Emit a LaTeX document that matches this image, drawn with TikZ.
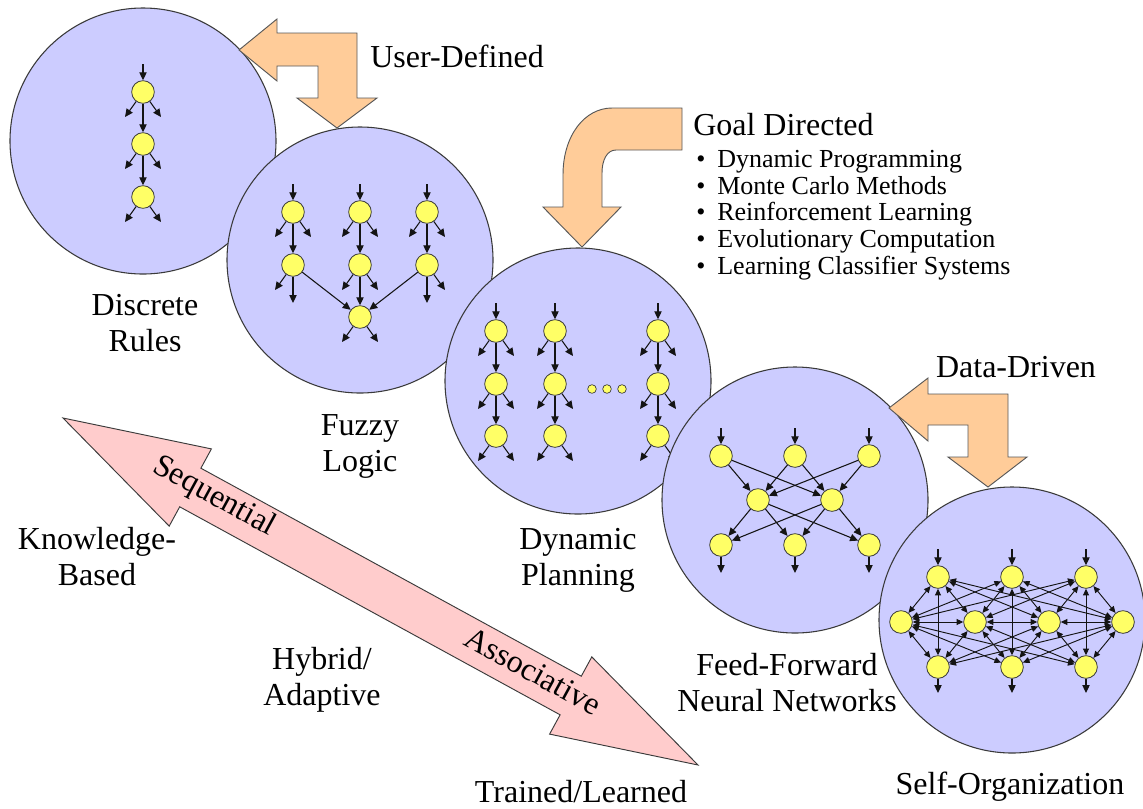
\documentclass[tikz,border=0pt]{standalone}
\usepackage{fontspec}
\setmainfont{LiberationSerif}[Extension=.ttf, UprightFont=*-Regular,
  BoldFont=*-Bold, ItalicFont=*-Italic, BoldItalicFont=*-BoldItalic]
\usetikzlibrary{arrows.meta,calc}

\definecolor{bubfill}{HTML}{CCCCFF}
\definecolor{rim}{HTML}{3A3A3A}
\definecolor{cellyellow}{HTML}{FFFF66}
\definecolor{peach}{HTML}{FFCC99}
\definecolor{rose}{HTML}{FFCCCC}
\definecolor{ink}{HTML}{141414}

\tikzset{
  bubble/.style={circle, draw=rim, fill=bubfill, line width=0.8pt,
    minimum size=199.5pt, inner sep=0pt},
  unit/.style={circle, draw=rim, fill=cellyellow, line width=0.6pt,
    minimum size=17pt, inner sep=0pt},
  dotunit/.style={circle, draw=rim, fill=cellyellow, line width=0.5pt,
    minimum size=6.5pt, inner sep=0pt},
  arr/.style={draw=ink, line width=0.8pt, -{Triangle[length=6pt,width=5.5pt]}},
  arrb/.style={draw=ink, line width=0.7pt,
    {Triangle[length=5pt,width=4.5pt]}-{Triangle[length=5pt,width=4.5pt]}},
  block/.style={draw=rim!85, fill=peach, line width=0.7pt, line join=miter},
  band/.style={draw=rim, fill=rose, line width=0.7pt, line join=miter},
  lbl/.style={font=\fontsize{24}{27}\selectfont, align=center, inner sep=0pt},
}

% two slanted output arrows below a unit
\newcommand\fanout[1]{%
  \coordinate (#1-l) at ($(#1)+(-18,25)$);
  \coordinate (#1-r) at ($(#1)+(18,25)$);
  \draw[arr] (#1) -- (#1-l);
  \draw[arr] (#1) -- (#1-r);}
\newcommand\fanleft[1]{%
  \coordinate (#1-l) at ($(#1)+(-18,25)$);
  \draw[arr] (#1) -- (#1-l);}
\newcommand\fanright[1]{%
  \coordinate (#1-r) at ($(#1)+(18,25)$);
  \draw[arr] (#1) -- (#1-r);}
% vertical input arrow into a unit
\newcommand\feedin[1]{%
  \coordinate (#1-in) at ($(#1)+(0,-28)$);
  \draw[arr] (#1-in) -- (#1);}
% vertical output arrow out of a unit
\newcommand\feedout[2]{%
  \coordinate (#1-out) at ($(#1)+(0,#2)$);
  \draw[arr] (#1) -- (#1-out);}

\begin{document}
\begin{tikzpicture}[x=0.75pt,y=-0.75pt]
\useasboundingbox (0,0) rectangle (1143,808);
\fill[white] (0,0) rectangle (1143,808);

% ---------- Discrete rules ----------
\node[bubble] (c1) at (143,141) {};
\node[unit] (d1) at (143,92) {};
\node[unit] (d2) at (143,144) {};
\node[unit] (d3) at (143,197) {};
\feedin{d1}
\draw[arr] (d1) -- (d2);
\draw[arr] (d2) -- (d3);
\fanout{d1}\fanout{d2}\fanout{d3}

% ---------- Fuzzy logic ----------
\node[bubble] (c2) at (360,260) {};
\node[unit] (f11) at (293,212) {};
\node[unit] (f12) at (360,212) {};
\node[unit] (f13) at (427,212) {};
\node[unit] (f21) at (293,265) {};
\node[unit] (f22) at (360,265) {};
\node[unit] (f23) at (427,265) {};
\node[unit] (fb) at (360,317) {};
\feedin{f11}\feedin{f12}\feedin{f13}
\draw[arr] (f11) -- (f21);
\draw[arr] (f12) -- (f22);
\draw[arr] (f13) -- (f23);
\fanout{f11}\fanout{f12}\fanout{f13}
\fanleft{f21}\fanout{f22}\fanright{f23}
\feedout{f21}{38}
\feedout{f23}{38}
\draw[arr] (f21) -- (fb);
\draw[arr] (f22) -- (fb);
\draw[arr] (f23) -- (fb);
\fanout{fb}

% ---------- Dynamic planning ----------
\node[bubble] (c3) at (578,381) {};
\foreach \c/\x in {a/496,b/555,c/658}{
  \node[unit] (p\c1) at (\x,331) {};
  \node[unit] (p\c2) at (\x,384) {};
  \node[unit] (p\c3) at (\x,436) {};
  \feedin{p\c1}
  \draw[arr] (p\c1) -- (p\c2);
  \draw[arr] (p\c2) -- (p\c3);
  \fanout{p\c1}\fanout{p\c2}\fanout{p\c3}
}
\node[dotunit] (e1) at (592,389) {};
\node[dotunit] (e2) at (607,389) {};
\node[dotunit] (e3) at (622,389) {};

% ---------- Feed-forward network ----------
\node[bubble] (c4) at (795,500) {};
\node[unit] (i1) at (721,456) {};
\node[unit] (i2) at (795,456) {};
\node[unit] (i3) at (869,456) {};
\node[unit] (h1) at (758,500) {};
\node[unit] (h2) at (832,500) {};
\node[unit] (o1) at (721,545) {};
\node[unit] (o2) at (795,545) {};
\node[unit] (o3) at (869,545) {};
\foreach \a in {i1,i2,i3}{
  \feedin{\a}
  \foreach \b in {h1,h2} \draw[arr] (\a) -- (\b);
}
\foreach \a in {h1,h2}
  \foreach \b in {o1,o2,o3} \draw[arr] (\a) -- (\b);
\foreach \b in {o1,o2,o3} {\feedout{\b}{28}}

% ---------- Self-organization ----------
\node[bubble] (c5) at (1012,620) {};
\node[unit] (t1) at (938,577) {};
\node[unit] (t2) at (1012,577) {};
\node[unit] (t3) at (1086,577) {};
\node[unit] (m1) at (901,622) {};
\node[unit] (m2) at (975,622) {};
\node[unit] (m3) at (1049,622) {};
\node[unit] (m4) at (1123,622) {};
\node[unit] (b1) at (938,667) {};
\node[unit] (b2) at (1012,667) {};
\node[unit] (b3) at (1086,667) {};
\foreach \a in {t1,t2,t3}
  \foreach \b in {m1,m2,m3,m4} \draw[arrb] (\a) -- (\b);
\foreach \a in {m1,m2,m3,m4}
  \foreach \b in {b1,b2,b3} \draw[arrb] (\a) -- (\b);
\draw[arrb] (m1) -- (m2);
\draw[arrb] (m2) -- (m3);
\draw[arrb] (m3) -- (m4);
\draw[arrb] (t1) -- (b1);
\draw[arrb] (t2) -- (b2);
\draw[arrb] (t3) -- (b3);
\foreach \a in {t1,t2,t3} {\feedin{\a}}
\foreach \b in {b1,b2,b3} {\feedout{\b}{26}}

% ---------- Block arrows ----------
% user-defined: left to the rules, down to the fuzzy logic
\draw[block] (239,50) -- (277,19) -- (277,33) -- (357,33) -- (357,98)
  -- (377,98) -- (337,128) -- (297,98) -- (318,98) -- (318,66)
  -- (277,66) -- (277,81) -- cycle;
% data-driven: left to the feed-forward net, down to self-organization
\draw[block] (889,408) -- (928,378) -- (928,394) -- (1008,394) -- (1008,457)
  -- (1027,457) -- (988,487) -- (948,457) -- (968,457) -- (968,425)
  -- (928,425) -- (928,441) -- cycle;
% goal directed: bent arrow down into dynamic planning
\draw[block] (682,108) -- (682,150) -- (616,150)
  .. controls (607,150) and (602,160) .. (602,173)
  -- (602,207) -- (621,207) -- (582,247) -- (543,207) -- (563,207)
  -- (563,175) .. controls (563,135) and (585,108) .. (612,108) -- cycle;

% ---------- Double arrow: sequential / associative ----------
\draw[band] (63,418) -- (211.4,448.9) -- (200.9,468.2) -- (581.3,676.2)
  -- (591.8,656.9) -- (698,765) -- (549.6,734.1) -- (560.1,714.8)
  -- (179.7,506.8) -- (169.2,526.1) -- cycle;
\node[lbl, rotate=-28.65] (seq) at (214,497) {Sequential};
\node[lbl, rotate=-28.65] (asc) at (533,671) {Associative};

% ---------- Labels ----------
\node[lbl] (udef) at (457,56) {User-Defined};
\node[lbl] (ddrv) at (1016,367) {Data-Driven};
\node[lbl, anchor=base west] (goal) at (693,135) {Goal Directed};
\node[anchor=north west, align=left, inner sep=0pt,
      font=\fontsize{19.5}{20}\selectfont] (goals) at (696,150)
  {\textbullet\hspace{9pt}Dynamic Programming\\
   \textbullet\hspace{9pt}Monte Carlo Methods\\
   \textbullet\hspace{9pt}Reinforcement Learning\\
   \textbullet\hspace{9pt}Evolutionary Computation\\
   \textbullet\hspace{9pt}Learning Classifier Systems};

\node[lbl] (l1) at (145,323) {Discrete\\Rules};
\node[lbl] (l2) at (360,446) {Fuzzy\\Logic};
\node[lbl] (l3) at (578,560) {Dynamic\\Planning};
\node[lbl] (l4) at (787,683) {Feed-Forward\\Neural Networks};
\node[lbl] (l5) at (1010,787) {Self-Organization};
\node[lbl] (kb) at (97,557) {Knowledge-\\Based};
\node[lbl] (hy) at (322,680) {Hybrid/\\Adaptive};
\node[lbl] (tl) at (581,792) {Trained/Learned};
\end{tikzpicture}
\end{document}
